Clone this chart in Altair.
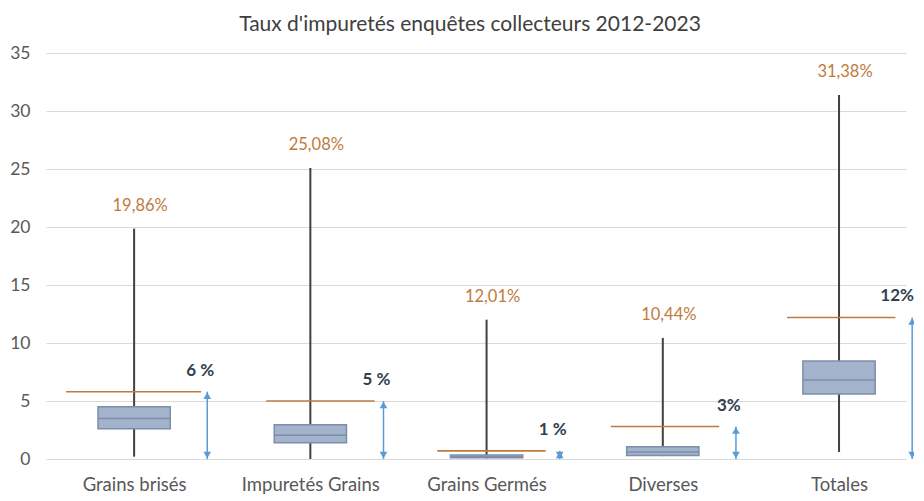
import altair as alt
import pandas as pd

categories = ["Grains brisés", "Impuretés Grains", "Grains Germés", "Diverses", "Totales"]
whisker_min = [0.2, 0.0, 0.05, 0.25, 0.6]
q1 = [2.6, 1.4, 0.1, 0.3, 5.6]
median = [3.5, 2.05, 0.2, 0.6, 6.8]
q3 = [4.5, 2.95, 0.35, 1.05, 8.45]
whisker_max = [19.86, 25.08, 12.01, 10.44, 31.38]
max_labels = ["19,86%", "25,08%", "12,01%", "10,44%", "31,38%"]
threshold = [5.8, 5.0, 0.7, 2.8, 12.2]
threshold_labels = ["6 %", "5 %", "1 %", "3%", "12%"]

# layout offsets (in category units) for the orange reference lines
line_left = [-0.386, -0.25, -0.28, -0.295, -0.295]
line_right = [0.38, 0.365, 0.335, 0.32, 0.32]

df = pd.DataFrame({
    "idx": list(range(len(categories))),
    "cat": categories,
    "wmin": whisker_min,
    "q1": q1,
    "med": median,
    "q3": q3,
    "wmax": whisker_max,
    "maxlab": max_labels,
    "thr": threshold,
    "thrlab": threshold_labels,
    "ll": line_left,
    "lr": line_right,
})

FONT = "Lato"
label_expr = "[" + ",".join("'" + c + "'" for c in categories) + "][datum.value]"

xscale = alt.Scale(domain=[-0.5, 4.38], nice=False, zero=False)
yscale = alt.Scale(domain=[0, 35], nice=False)

x_axis = alt.X("idx:Q", scale=xscale, axis=alt.Axis(
    values=[0, 1, 2, 3, 4], labelExpr=label_expr, title=None, grid=False,
    ticks=False, domain=False, labelPadding=16, labelFontSize=18.5,
    labelColor="#595959", labelFont=FONT))
y_axis = alt.Y("wmin:Q", scale=yscale, axis=alt.Axis(
    values=[0, 5, 10, 15, 20, 25, 30, 35], title=None, ticks=False, domain=False,
    labelPadding=16, labelFontSize=17.5, labelColor="#595959", labelFont=FONT,
    gridColor="#d9d9d9", gridWidth=1))

base = alt.Chart(df)

whisker = base.mark_rule(color="#404040", strokeWidth=2).encode(
    x=x_axis, y=y_axis, y2="wmax:Q")

box = base.transform_calculate(
    xl="datum.idx - 0.205", xr="datum.idx + 0.205"
).mark_rect(fill="#a4b3cc", stroke="#7d8eab", strokeWidth=1.5).encode(
    x=alt.X("xl:Q", scale=xscale), x2="xr:Q",
    y=alt.Y("q1:Q", scale=yscale), y2="q3:Q")

med = base.transform_calculate(
    xl="datum.idx - 0.205", xr="datum.idx + 0.205"
).mark_rule(color="#7d8eab", strokeWidth=1.5).encode(
    x=alt.X("xl:Q", scale=xscale), x2="xr:Q",
    y=alt.Y("med:Q", scale=yscale))

thr_line = base.transform_calculate(
    xl="datum.idx + datum.ll", xr="datum.idx + datum.lr"
).mark_rule(color="#c07a3e", strokeWidth=1.6).encode(
    x=alt.X("xl:Q", scale=xscale), x2="xr:Q",
    y=alt.Y("thr:Q", scale=yscale))

arrow = base.transform_calculate(xa="datum.idx + 0.415", zero="0").mark_rule(
    color="#5b9bd5", strokeWidth=1.5).encode(
    x=alt.X("xa:Q", scale=xscale),
    y=alt.Y("zero:Q", scale=yscale), y2="thr:Q")

head_up = base.transform_calculate(xa="datum.idx + 0.415").mark_point(
    shape="triangle-up", filled=True, color="#5b9bd5", size=60, opacity=1, yOffset=4).encode(
    x=alt.X("xa:Q", scale=xscale), y=alt.Y("thr:Q", scale=yscale))

head_down = base.transform_calculate(xa="datum.idx + 0.415", zero="0").mark_point(
    shape="triangle-down", filled=True, color="#5b9bd5", size=60, opacity=1, yOffset=-4).encode(
    x=alt.X("xa:Q", scale=xscale), y=alt.Y("zero:Q", scale=yscale))

max_text = base.mark_text(color="#c07a3e", fontSize=16.5, font=FONT, dy=-23, dx=6).encode(
    x=alt.X("idx:Q", scale=xscale), y=alt.Y("wmax:Q", scale=yscale), text="maxlab:N")

thr_text = base.transform_calculate(xt="min(datum.idx + 0.375, 4.33)").mark_text(
    color="#333f50", fontSize=17, font=FONT, fontWeight="bold", dy=-21).encode(
    x=alt.X("xt:Q", scale=xscale), y=alt.Y("thr:Q", scale=yscale), text="thrlab:N")

chart = alt.layer(
    whisker, box, med, thr_line, arrow, head_up, head_down, max_text, thr_text
).properties(
    width=860, height=406,
    title=alt.TitleParams("Taux d'impuretés enquêtes collecteurs 2012-2023",
                          fontSize=21, font=FONT, fontWeight="normal",
                          color="#404040", offset=9, dx=-6),
    autosize=alt.AutoSizeParams(type="none"),
    padding={"left": 38, "top": 45, "right": 8, "bottom": 40},
).configure_view(stroke=None)

chart.save("out.html", embed_options={"renderer": "svg", "actions": False})
